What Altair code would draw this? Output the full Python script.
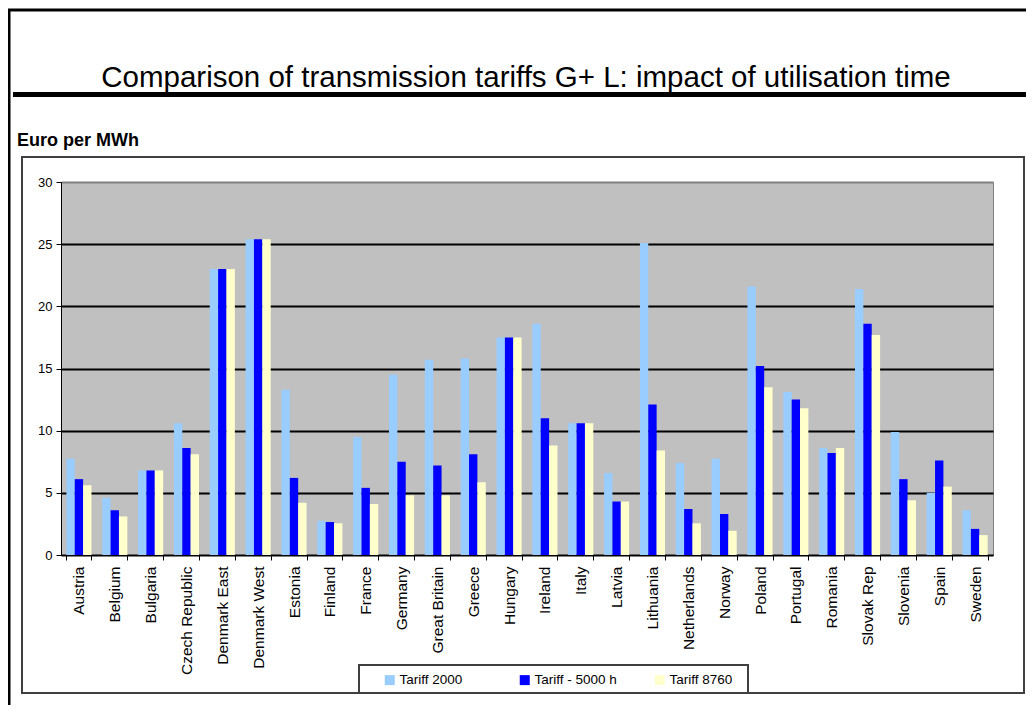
import altair as alt
import pandas as pd

countries = ["Austria", "Belgium", "Bulgaria", "Czech Republic", "Denmark East",
             "Denmark West", "Estonia", "Finland", "France", "Germany",
             "Great Britain", "Greece", "Hungary", "Ireland", "Italy", "Latvia",
             "Lithuania", "Netherlands", "Norway", "Poland", "Portugal", "Romania",
             "Slovak Rep", "Slovenia", "Spain", "Sweden"]
tariff_2000 = [7.75, 4.6, 6.8, 10.6, 23.0, 25.4, 13.3, 2.75, 9.5, 14.5, 15.7, 15.8, 17.5,
               18.6, 10.6, 6.6, 25.1, 7.4, 7.75, 21.6, 13.1, 8.6, 21.4, 9.9, 5.0, 3.6]
tariff_5000 = [6.1, 3.6, 6.8, 8.6, 23.0, 25.4, 6.2, 2.65, 5.4, 7.5, 7.2, 8.1, 17.5,
               11.0, 10.6, 4.3, 12.1, 3.7, 3.3, 15.2, 12.5, 8.2, 18.6, 6.1, 7.6, 2.1]
tariff_8760 = [5.6, 3.1, 6.8, 8.1, 23.0, 25.4, 4.2, 2.55, 4.1, 4.8, 4.8, 5.85, 17.5,
               8.8, 10.6, 4.3, 8.4, 2.55, 1.95, 13.5, 11.8, 8.6, 17.7, 4.4, 5.5, 1.6]
series = ["Tariff 2000", "Tariff - 5000 h", "Tariff 8760"]
colors = ["#99CCFF", "#0000FF", "#FFFFCC"]
y_ticks = [0, 5, 10, 15, 20, 25, 30]

rows = []
for i, c in enumerate(countries):
    for s, vals in zip(series, [tariff_2000, tariff_5000, tariff_8760]):
        rows.append({"country": c, "series": s, "value": vals[i]})
df = pd.DataFrame(rows)

FONT = "Liberation Sans, Arial, sans-serif"
W, H = 932, 373

bars = alt.Chart(df).mark_bar().encode(
    x=alt.X("country:N", sort=countries, title=None,
            scale=alt.Scale(paddingInner=0.3, paddingOuter=0.15),
            axis=alt.Axis(labelAngle=270, tickBand="extent", labelFontSize=15.5,
                          labelFont=FONT, labelColor="black", tickColor="black",
                          tickSize=5, domainColor="black", labelPadding=6, grid=False)),
    xOffset=alt.XOffset("series:N", sort=series),
    y=alt.Y("value:Q", title=None, scale=alt.Scale(domain=[0, 30], nice=False),
            axis=alt.Axis(values=y_ticks, labelFontSize=13, labelFont=FONT,
                          labelColor="black", tickColor="black", tickSize=5,
                          domainColor="black", labelPadding=4,
                          gridColor={"condition": {"test": "datum.value === 30", "value": "#808080"},
                                     "value": "black"},
                          gridWidth=2)),
    color=alt.Color("series:N", sort=series,
                    scale=alt.Scale(domain=series, range=colors),
                    legend=alt.Legend(title=None, orient="none", legendX=322, legendY=491,
                                      direction="horizontal", symbolType="square",
                                      symbolSize=100, symbolStrokeWidth=0,
                                      labelFontSize=13.5, labelFont=FONT, labelColor="black",
                                      columnPadding=36, gridAlign="all", padding=0,
                                      labelOffset=3)),
)

dummy = pd.DataFrame({"d": [0]})

outer_top = alt.Chart(dummy).mark_rule(color="black", strokeWidth=3).encode(
    x=alt.value(-53), x2=alt.value(970), y=alt.value(-172))
outer_left = alt.Chart(dummy).mark_rule(color="black", strokeWidth=3).encode(
    x=alt.value(-52), y=alt.value(-173), y2=alt.value(530))
thick = alt.Chart(dummy).mark_rule(color="black", strokeWidth=5).encode(
    x=alt.value(-48), x2=alt.value(970), y=alt.value(-87.5))
chart_box = alt.Chart(dummy).mark_rect(fillOpacity=0, stroke="#404040", strokeWidth=2).encode(
    x=alt.value(-39), x2=alt.value(963), y=alt.value(-25), y2=alt.value(511))
legend_box = alt.Chart(dummy).mark_rect(fillOpacity=0, stroke="#404040", strokeWidth=2).encode(
    x=alt.value(298), x2=alt.value(687), y=alt.value(483), y2=alt.value(511))
title = alt.Chart(dummy).mark_text(
    text="Comparison of transmission tariffs G+ L: impact of utilisation time",
    fontSize=29.5, font=FONT, align="center", baseline="alphabetic", color="black").encode(
    x=alt.value(W / 2 - 1), y=alt.value(-95))
unit = alt.Chart(dummy).mark_text(
    text="Euro per MWh", fontSize=18, font=FONT, fontWeight="bold", align="left",
    baseline="alphabetic", color="black").encode(x=alt.value(-44), y=alt.value(-36))

chart = alt.layer(outer_top, outer_left, thick, chart_box, legend_box, bars, title, unit).properties(
    width=W, height=H,
    autosize=alt.AutoSizeParams(type="none"),
    padding={"left": 53, "top": 174, "right": 33, "bottom": 150},
).configure_view(fill="#C0C0C0", stroke="#808080", strokeWidth=1)

chart.save("out.html", embed_options={"renderer": "svg", "actions": False})
